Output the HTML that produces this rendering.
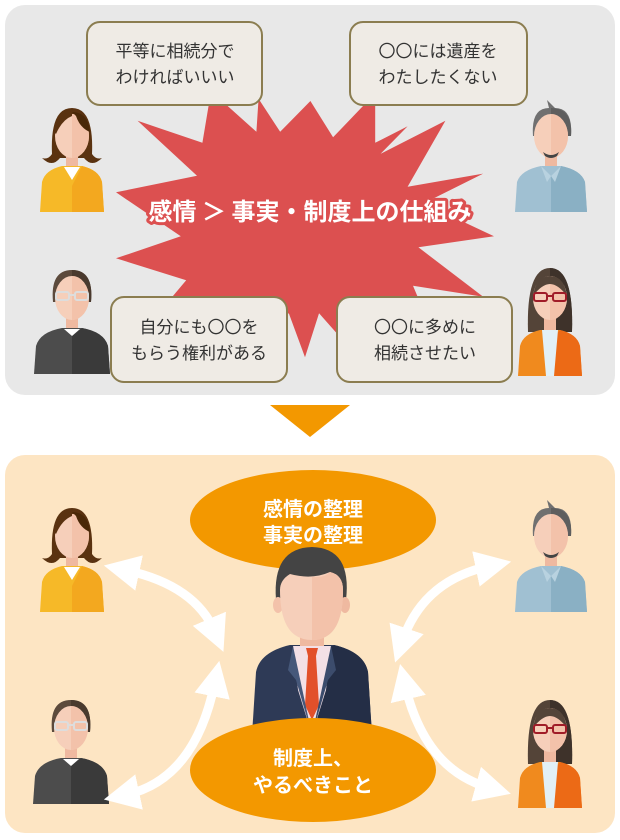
<!DOCTYPE html>
<html><head><meta charset="utf-8"><style>
body{margin:0;background:#fff}
svg{display:block}
text{font-family:"Noto Sans CJK JP","Liberation Sans",sans-serif}
</style></head><body>
<svg width="620" height="840" viewBox="0 0 620 840" xmlns="http://www.w3.org/2000/svg">
<defs>
<g id="face">
<rect x="26" y="52" width="12" height="18" fill="#efb9a0"/>
<ellipse cx="32" cy="36" rx="17" ry="22" fill="#f6cfba"/>
<path d="M32 14 A17 22 0 0 1 32 58 Z" fill="#f3c2aa"/>
</g>
<g id="w1">
<path d="M12 54 Q10 8 32 8 Q54 8 52 54 Q56 60 62 58 Q52 68 44 58 L20 58 Q12 68 2 58 Q8 60 12 54Z" fill="#5a3210"/>
<use href="#face"/>
<path d="M14 32 Q18 12 32 12 L32 16 Q22 20 16 34Z" fill="#5a3210"/>
<path d="M32 12 Q48 12 50 32 Q40 28 36 16Z" fill="#4a2808"/>
<path d="M0 112 L2 82 Q5 70 22 66 L42 66 Q59 70 62 82 L64 112Z" fill="#f6b928"/>
<path d="M32 112 L32 86 L42 66 Q59 70 62 82 L64 112Z" fill="#f3a81f"/>
<path d="M24 67 L40 67 L32 80Z" fill="#fff"/>
</g>
<g id="m1">
<path d="M14 36 Q12 8 30 8 L28 0 L36 8 Q54 8 52 36Z" fill="#707070"/>
<path d="M32 8 Q54 8 52 36 L48 36 Q46 16 32 16Z" fill="#5e5e5e"/>
<use href="#face"/>
<path d="M24 52 Q32 58 40 52 L38 56 Q32 60 26 56Z" fill="#444"/>
<path d="M-4 112 L-2 82 Q2 70 22 66 L42 66 Q62 70 66 82 L68 112Z" fill="#a0c0d2"/>
<path d="M32 112 L32 76 L42 66 Q62 70 66 82 L68 112Z" fill="#8ab0c4"/>
<path d="M22 66 L32 76 L28 82Z M42 66 L32 76 L36 82Z" fill="#b8d2e0"/>
</g>
<g id="m2">
<path d="M13 40 Q10 8 32 8 Q54 8 51 40 L48 40 Q48 22 32 20 Q16 22 16 40Z" fill="#5c4a3c"/>
<path d="M32 8 Q54 8 51 40 L48 40 Q48 22 32 20Z" fill="#4a3a2e"/>
<use href="#face"/>
<g fill="none" stroke="#ddd" stroke-width="2"><rect x="16" y="30" width="13" height="8" rx="2"/><rect x="35" y="30" width="13" height="8" rx="2"/><path d="M29 33 L35 33"/></g>
<path d="M-6 112 L-4 84 Q0 70 22 66 L42 66 Q64 70 68 84 L70 112Z" fill="#4c4c4c"/>
<path d="M32 112 L32 74 L42 66 Q64 70 68 84 L70 112Z" fill="#3a3a3a"/>
<path d="M24 67 L40 67 L32 74Z" fill="#fff"/>
</g>
<g id="w2">
<path d="M10 70 Q8 6 32 6 Q56 6 54 70Z" fill="#544438"/>
<path d="M32 6 Q56 6 54 70 L32 70Z" fill="#3e322a"/>
<use href="#face"/>
<path d="M15 34 Q18 14 32 14 Q46 14 49 34 Q40 22 32 22 Q24 22 15 34Z" fill="#544438"/>
<g fill="none" stroke="#a01c28" stroke-width="2"><rect x="16" y="31" width="13" height="8" rx="2"/><rect x="35" y="31" width="13" height="8" rx="2"/><path d="M29 34 L35 34"/></g>
<path d="M0 114 L2 84 Q5 72 22 68 L42 68 Q59 72 62 84 L64 114Z" fill="#f08a1e"/>
<path d="M32 114 L32 80 L42 68 Q59 72 62 84 L64 114Z" fill="#ec6a16"/>
<path d="M24 68 L40 68 L36 114 L28 114Z" fill="#e2f0f6"/>
</g>
<marker id="ah" viewBox="0 0 10 10" refX="4" refY="5" markerWidth="4" markerHeight="4" orient="auto-start-reverse" markerUnits="strokeWidth">
<path d="M0 0 L10 5 L0 10 Z" fill="#fff"/>
</marker>
</defs>

<rect x="5" y="5" width="610" height="390" rx="20" fill="#e8e8e8"/>
<rect x="5" y="455" width="610" height="378" rx="20" fill="#fde5c3"/>
<polygon points="270,405 350,405 310,437" fill="#f39800"/>

<g transform="translate(305,222) scale(1.08,1.1) translate(-305,-222)">
<polygon fill="#dc5050" points="
218,103 260,140 262,110 282,140 310,112 331,145 370,105 370,150 400,135 375,160 435,130 400,190 470,178 415,205 480,235 410,245 470,290 405,280 420,315 380,300 370,330 350,305 345,335 318,305 305,345 290,305 255,330 262,300 210,325 225,295 165,310 195,275 130,255 190,235 130,195 205,180 150,130 210,150"/>
</g>
<text x="310" y="220" text-anchor="middle" font-size="24" font-weight="bold" fill="#fff" stroke="#dc5050" stroke-width="6" paint-order="stroke" stroke-linejoin="round">感情 ＞ 事実・制度上の仕組み</text>

<g fill="#efebe5" stroke="#8b7d50" stroke-width="2">
<rect x="87" y="22" width="175" height="83" rx="13"/>
<rect x="350" y="22" width="177" height="83" rx="13"/>
<rect x="111" y="297" width="176" height="85" rx="13"/>
<rect x="337" y="297" width="175" height="85" rx="13"/>
</g>
<g font-size="17" fill="#333" text-anchor="middle">
<text x="175" y="57">平等に相続分で</text><text x="175" y="83">わければいいい</text>
<text x="438" y="57">〇〇には遺産を</text><text x="438" y="83">わたしたくない</text>
<text x="199" y="333">自分にも〇〇を</text><text x="199" y="359">もらう権利がある</text>
<text x="425" y="333">〇〇に多めに</text><text x="425" y="359">相続させたい</text>
</g>

<use href="#w1" x="40" y="100"/>
<use href="#m1" x="519" y="100"/>
<use href="#m2" x="40" y="262"/>
<use href="#w2" x="518" y="262"/>

<use href="#w1" x="40" y="500"/>
<use href="#m1" x="519" y="500"/>
<use href="#m2" x="39" y="692"/>
<use href="#w2" x="518" y="694"/>

<g fill="none" stroke="#fff" stroke-width="9" marker-start="url(#ah)" marker-end="url(#ah)">
<path d="M125,570 Q195,585 215,632"/>
<path d="M125,795 Q195,780 215,682"/>
<path d="M490,566 Q423,580 402,642"/>
<path d="M405,685 Q425,770 490,788"/>
</g>

<ellipse cx="313" cy="520" rx="123" ry="50" fill="#f39800"/>
<g font-size="20" font-weight="bold" fill="#fff" text-anchor="middle">
<text x="313" y="516">感情の整理</text><text x="313" y="542">事実の整理</text>
</g>

<path d="M252 735 L256 672 Q260 652 290 645 L334 645 Q364 652 368 672 L372 735Z" fill="#2e3a56"/>
<path d="M312 735 L312 660 L334 645 Q364 652 368 672 L372 735Z" fill="#242e46"/>
<rect x="300" y="628" width="24" height="20" fill="#efb9a0"/>
<path d="M293 646 L331 646 L326 690 L312 735 L298 690Z" fill="#f3e0e6"/>
<path d="M306 648 L318 648 L316 656 L319 705 L312 720 L305 705 L308 656Z" fill="#e2502a"/>
<path d="M293 646 L288 670 L296 680 L312 735 Z" fill="#46587a"/>
<path d="M331 646 L336 670 L328 680 L312 735 Z" fill="#3c4c6c"/>
<path d="M276 600 Q272 548 312 547 Q352 548 346 600Z" fill="#444"/>
<ellipse cx="278" cy="605" rx="5" ry="8" fill="#f3c2aa"/>
<ellipse cx="345" cy="605" rx="5" ry="8" fill="#efb9a0"/>
<path d="M280 590 Q280 640 312 640 Q343 640 343 590 Q343 575 330 572 Q312 580 290 574 Q280 580 280 590Z" fill="#f6cfba"/>
<path d="M312 577 Q325 578 330 572 Q343 575 343 590 Q343 640 312 640Z" fill="#f3c2aa"/>

<ellipse cx="313" cy="770" rx="123" ry="52" fill="#f39800"/>
<g font-size="20" font-weight="bold" fill="#fff" text-anchor="middle">
<text x="313" y="765">制度上、</text><text x="313" y="792">やるべきこと</text>
</g>
</svg>
</body></html>
